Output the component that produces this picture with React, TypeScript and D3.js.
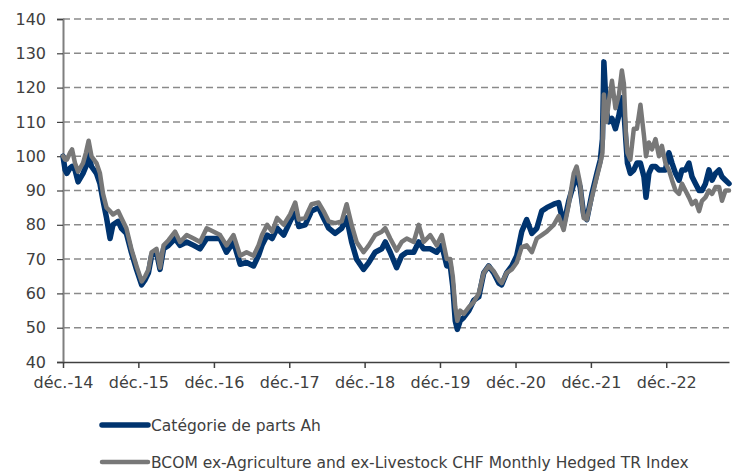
import React, { useRef, useEffect } from "react";
import * as d3 from "d3";

const dates = [
	"2014-12-31", "2015-01-10", "2015-01-19", "2015-02-03", "2015-02-13", "2015-02-27", "2015-03-14", "2015-04-07",
	"2015-04-21", "2015-05-04", "2015-05-18", "2015-06-11", "2015-06-28", "2015-07-13", "2015-07-30", "2015-08-16",
	"2015-08-30", "2015-09-24", "2015-10-10", "2015-11-03", "2015-11-27", "2015-12-22", "2016-01-16", "2016-02-02",
	"2016-02-18", "2016-03-04", "2016-03-28", "2016-04-14", "2016-05-01", "2016-05-25", "2016-06-26", "2016-07-20",
	"2016-08-21", "2016-09-24", "2016-10-25", "2016-11-26", "2016-12-30", "2017-01-30", "2017-03-02", "2017-04-05",
	"2017-05-07", "2017-06-07", "2017-07-11", "2017-08-04", "2017-08-21", "2017-09-15", "2017-10-09", "2017-11-02",
	"2017-12-04", "2018-01-04", "2018-01-29", "2018-02-15", "2018-03-18", "2018-04-18", "2018-05-22", "2018-06-15",
	"2018-07-10", "2018-08-10", "2018-09-11", "2018-10-05", "2018-10-29", "2018-11-22", "2018-12-26", "2019-01-20",
	"2019-02-20", "2019-03-24", "2019-04-10", "2019-05-04", "2019-06-04", "2019-06-29", "2019-07-23", "2019-08-26",
	"2019-09-19", "2019-10-13", "2019-11-14", "2019-12-15", "2020-01-09", "2020-02-02", "2020-02-19", "2020-03-02",
	"2020-03-14", "2020-03-24", "2020-04-07", "2020-04-24", "2020-05-19", "2020-06-12", "2020-07-06", "2020-07-30",
	"2020-08-23", "2020-09-16", "2020-10-11", "2020-10-25", "2020-11-18", "2020-12-13", "2021-01-06", "2021-01-30",
	"2021-02-23", "2021-03-20", "2021-04-13", "2021-05-07", "2021-05-31", "2021-07-04", "2021-07-28", "2021-08-21",
	"2021-09-15", "2021-10-09", "2021-10-23", "2021-11-09", "2021-11-26", "2021-12-11", "2022-01-05", "2022-01-29",
	"2022-02-15", "2022-02-25", "2022-03-04", "2022-03-16", "2022-03-28", "2022-04-12", "2022-04-29", "2022-05-16",
	"2022-05-30", "2022-06-09", "2022-06-19", "2022-06-26", "2022-07-10", "2022-07-27", "2022-08-11", "2022-08-28",
	"2022-09-14", "2022-09-24", "2022-10-08", "2022-10-23", "2022-11-09", "2022-11-26", "2022-12-10", "2022-12-27",
	"2023-01-13", "2023-01-28", "2023-02-14", "2023-03-03", "2023-03-17", "2023-04-03", "2023-04-20", "2023-05-05",
	"2023-05-22", "2023-06-08", "2023-06-22", "2023-07-09", "2023-07-26", "2023-08-10", "2023-08-27", "2023-09-13",
	"2023-09-27", "2023-10-14", "2023-10-31",
];

// Catégorie de parts Ah
const fundValues = [
	100, 96, 95, 96.5, 97, 96, 92.5, 95, 97, 100.5, 97, 95, 92, 87, 82, 76,
	80, 81, 79, 77.5, 72, 67, 62.5, 64, 66, 71, 72, 67, 73, 74, 76, 74,
	75, 74, 73, 76, 76, 76, 72, 75, 68.5, 69, 68, 71, 74, 77, 76, 79,
	77, 81, 84, 79.5, 80, 84, 85, 82, 79, 77.5, 79, 82, 75, 70, 67, 69,
	72, 73, 75, 72, 67.5, 71, 72, 72, 75, 73, 73, 72, 74, 68, 68, 62,
	52, 49.5, 52, 53, 55, 58, 59, 66, 68, 66, 63, 62.5, 66, 68, 71, 78,
	81.5, 77.5, 79, 84, 85, 86, 86.5, 80, 87, 92, 94, 91, 83, 81.5, 89, 95,
	99, 105, 127.5, 113, 110, 111, 108, 112, 117, 113, 104, 98, 95, 96, 98, 98,
	94, 88, 95, 97, 97, 96, 96, 96, 101, 98, 95, 93, 96, 96, 98, 94,
	92, 90, 90, 92, 96, 93, 95, 96, 94, 93, 92,
];

// BCOM ex-Agriculture and ex-Livestock CHF Monthly Hedged TR Index
const indexValues = [
	100, 99, 99, 101, 102, 98, 95.5, 98, 101, 104.5, 100, 98, 95, 89, 85, 84,
	83, 84, 82, 79, 73, 68, 63.5, 65, 67, 72, 73, 67.5, 74, 75.5, 78, 75,
	77, 76, 75, 79, 78, 77, 74, 77, 71, 72, 71, 74, 77, 80, 78, 82,
	80, 83, 86.5, 81.5, 82, 86, 86.5, 84, 81, 80.5, 81, 86, 80, 75, 72, 74,
	77, 78, 79, 76, 72.5, 75, 76, 75, 80, 75, 77, 74, 77, 70, 70, 65,
	56, 52, 55, 54, 56, 57.5, 60, 66, 68, 66.5, 64, 63, 66, 67, 69, 73.5,
	74, 72, 76, 77, 78, 80, 82.5, 78.5, 86, 95, 97, 92, 82, 81.5, 88, 94,
	98, 101, 118, 110, 116, 122, 114, 118, 125, 121, 106, 101, 99, 108, 108, 115,
	106, 100, 104, 102, 105, 100, 103, 98, 96, 93, 90, 89, 92, 90, 88, 86,
	87, 84, 87, 88, 90, 89, 91, 91, 87, 90, 90,
];

const yTicks = [40, 50, 60, 70, 80, 90, 100, 110, 120, 130, 140];
const xTickDates = [
	"2014-12-31", "2015-12-31", "2016-12-31", "2017-12-31", "2018-12-31",
	"2019-12-31", "2020-12-31", "2021-12-31", "2022-12-31",
];
const seriesNames = [
	"Catégorie de parts Ah",
	"BCOM ex-Agriculture and ex-Livestock CHF Monthly Hedged TR Index",
];
const seriesColors = ["#00346f", "#787878"];
const seriesWidths = [5.5, 4.5];

const FONT = "'DejaVu Sans', sans-serif";
const TEXT = "#404040";

const App = () => {
	const svgRef = useRef<SVGSVGElement | null>(null);

	useEffect(() => {
		if (!svgRef.current) return;
		const width = 735;
		const height = 472;
		const svg = d3.select(svgRef.current);
		svg.selectAll("*").remove();
		svg.attr("width", width).attr("height", height);

		const left = 63;
		const right = 729;
		const top = 19;
		const bottom = 362;

		const parse = d3.timeParse("%Y-%m-%d");
		const x = d3
			.scaleTime()
			.domain([parse("2014-12-31")!, parse("2023-10-31")!])
			.range([left, right]);
		const y = d3.scaleLinear().domain([40, 140]).range([bottom, top]);

		// dashed gridlines
		svg.append("g")
			.selectAll("line")
			.data(yTicks.filter((t) => t > 40))
			.join("line")
			.attr("x1", left)
			.attr("x2", right)
			.attr("y1", (d) => y(d))
			.attr("y2", (d) => y(d))
			.attr("stroke", "#8a8a8a")
			.attr("stroke-width", 1.5)
			.attr("stroke-dasharray", "7,4");

		// y axis
		const yAxis = d3
			.axisLeft(y)
			.tickValues(yTicks)
			.tickSize(6)
			.tickPadding(11)
			.tickFormat((d) => `${d}`);
		const gy = svg
			.append("g")
			.attr("transform", `translate(${left},0)`)
			.call(yAxis);
		gy.select(".domain").attr("stroke", "#7f7f7f").attr("stroke-width", 2);
		gy.selectAll(".tick line").attr("stroke", "#404040").attr("stroke-width", 1.2);
		gy.selectAll(".tick text")
			.attr("fill", TEXT)
			.style("font-family", FONT)
			.style("font-size", "16px");

		// lines
		const line = d3
			.line<number>()
			.x((_, i) => x(parse(dates[i])!))
			.y((d) => y(d));

		[fundValues, indexValues].forEach((vals, i) => {
			svg.append("path")
				.attr("d", line(vals))
				.attr("fill", "none")
				.attr("stroke", seriesColors[i])
				.attr("stroke-width", seriesWidths[i])
				.attr("stroke-linejoin", "round")
				.attr("stroke-linecap", "round");
		});

		// x axis
		const fmt = d3.timeFormat("%y");
		const xAxis = d3
			.axisBottom(x)
			.tickValues(xTickDates.map((d) => parse(d)!))
			.tickSizeInner(6)
			.tickSizeOuter(0)
			.tickPadding(9)
			.tickFormat((d) => `déc.-${fmt(d as Date)}`);
		const gx = svg
			.append("g")
			.attr("transform", `translate(0,${bottom})`)
			.call(xAxis);
		gx.select(".domain").attr("stroke", "#404040").attr("stroke-width", 1.5);
		gx.selectAll(".tick line").attr("stroke", "#404040").attr("stroke-width", 1.5);
		gx.selectAll(".tick text")
			.attr("fill", TEXT)
			.style("font-family", FONT)
			.style("font-size", "16px");

		// legend
		const legendY = [425, 462];
		const leg = svg
			.append("g")
			.selectAll("g")
			.data(seriesNames)
			.join("g")
			.attr("transform", (_, i) => `translate(0,${legendY[i]})`);
		leg.append("line")
			.attr("x1", 102)
			.attr("x2", 148)
			.attr("stroke", (_, i) => seriesColors[i])
			.attr("stroke-width", (_, i) => seriesWidths[i])
			.attr("stroke-linecap", "round");
		leg.append("text")
			.attr("x", 151)
			.attr("dy", "0.36em")
			.attr("fill", TEXT)
			.style("font-family", FONT)
			.style("font-size", "15.5px")
			.text((d) => d);
	}, []);

	return (
		<div style={{ position: "absolute", left: 0, top: 0 }}>
			<svg ref={svgRef} style={{ display: "block" }}></svg>
		</div>
	);
};

export default App;
